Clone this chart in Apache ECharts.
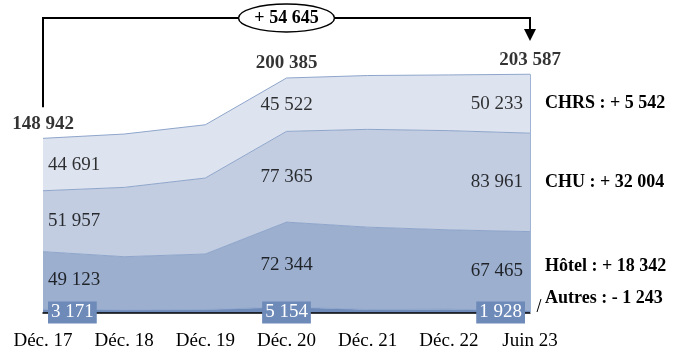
<!DOCTYPE html>
<html><head><meta charset="utf-8">
<script src="https://cdn.jsdelivr.net/npm/echarts@6/dist/echarts.min.js"></script>
<style>html,body{margin:0;padding:0;background:#fff}#c{width:690px;height:363px}</style>
</head><body><div id="c"></div>
<script>
const categories = ['Déc. 17','Déc. 18','Déc. 19','Déc. 20','Déc. 21','Déc. 22','Juin 23'];
const autres = [3171, 2700, 2900, 5154, 3000, 3300, 1928];
const hotel  = [49123, 45300, 47400, 72344, 70200, 67600, 67465];
const chu    = [51957, 59100, 64800, 77365, 83400, 84600, 83961];
const chrs   = [44691, 45500, 45400, 45522, 45900, 47500, 50233];
const seriesNames = ['Autres', 'Hôtel', 'CHU', 'CHRS'];
const labelIdx = [0, 3, 6];

const layers = [autres, hotel, chu, chrs];
const colors = ['#6d8ab9', '#9cafce', '#c2cde1', '#dee4ef'];
const FONT = 'Liberation Serif';
const fmt = n => Math.round(Math.abs(n)).toString().replace(/\B(?=(\d{3})+(?!\d))/g, ' ');
const signed = d => (d >= 0 ? '+ ' : '- ') + fmt(d);
const totals = categories.map((_, i) => layers.reduce((s, l) => s + l[i], 0));
const last = categories.length - 1;

const chart = echarts.init(document.getElementById('c'), null, {renderer: 'canvas'});

const series = layers.map((arr, k) => ({
  name: seriesNames[k], type: 'line', stack: 'tot', data: arr, symbol: 'none',
  lineStyle: {color: '#8ea5cb', width: 1},
  areaStyle: {color: colors[k], opacity: 1},
  z: 1
}));
series[3].markLine = {
  silent: true, symbol: 'none', label: {show: false},
  lineStyle: {color: '#9fb3d4', width: 1, type: 'solid'},
  data: [[{coord: [last, 0]}, {coord: [last, totals[last]]}]]
};

function posFor(i) {
  if (i === 0) return {position: 'right', distance: 5};
  if (i === last) return {position: 'left', distance: 7};
  return {position: 'inside'};
}

const bandData = [];
for (let k = 1; k < layers.length; k++) {
  labelIdx.forEach(i => {
    let below = 0;
    for (let j = 0; j < k; j++) below += layers[j][i];
    bandData.push({value: [i, below + layers[k][i] / 2], text: fmt(layers[k][i]),
      label: Object.assign({show: true}, posFor(i))});
  });
}
series.push({
  type: 'scatter', symbolSize: 0, data: bandData, z: 5, silent: true,
  label: {show: true, formatter: p => p.data.text, fontFamily: FONT, fontSize: 19, color: '#000'}
});
series.push({
  type: 'scatter', symbolSize: 0, z: 6, silent: true,
  data: labelIdx.map(i => ({value: [i, totals[i]], text: fmt(totals[i])})),
  label: {show: true, position: 'top', distance: 5, formatter: p => p.data.text, fontFamily: FONT,
    fontSize: 19, fontWeight: 'bold', color: '#000'}
});

chart.setOption({
  animation: false,
  grid: {left: 43, right: 160, top: 55, bottom: 50},
  xAxis: {type: 'category', data: categories, boundaryGap: false,
    axisLine: {lineStyle: {color: '#000', width: 1.5}}, axisTick: {show: false},
    axisLabel: {fontFamily: FONT, fontSize: 19, color: '#000', margin: 19}, z: 3},
  yAxis: {type: 'value', min: 0, max: 220000, show: false, splitLine: {show: false}},
  series: series
});

const px = (i, v) => chart.convertToPixel({xAxisIndex: 0, yAxisIndex: 0}, [i, v]);
const x0 = px(0, 0)[0], xL = px(last, 0)[0], yBase = px(0, 0)[1];
const yTop = 18;
const graphic = [];
graphic.push({type: 'polyline', shape: {points: [[x0, px(0, totals[0])[1] - 31], [x0, yTop], [xL, yTop], [xL, 31]]},
  style: {stroke: '#000', lineWidth: 2, fill: null}, z: 20});
graphic.push({type: 'polygon', shape: {points: [[xL - 6, 29], [xL + 6, 29], [xL, 41]]}, style: {fill: '#000'}, z: 20});
const cx = (x0 + xL) / 2;
graphic.push({type: 'ellipse', shape: {cx: cx, cy: yTop, rx: 48, ry: 14}, style: {fill: '#fff', stroke: '#000', lineWidth: 1.5}, z: 21});
graphic.push({type: 'text', x: cx, y: yTop, style: {text: signed(totals[last] - totals[0]), font: 'bold 18px "' + FONT + '"',
  fill: '#000', align: 'center', verticalAlign: 'middle'}, z: 22});
// Autres value boxes
labelIdx.forEach(i => {
  const p = px(i, 0);
  let x = p[0], align = 'center';
  if (i === 0) { x += 5; align = 'left'; }
  if (i === last) { x -= 5; align = 'right'; }
  graphic.push({type: 'text', x: x, y: yBase - 0.5, z: 30, style: {
    text: fmt(autres[i]), font: '19px "' + FONT + '"', fill: '#fff', align: align, verticalAlign: 'middle',
    backgroundColor: '#6d8ab9', padding: [2, 3, 1, 3]}});
});
const rightY = [];
for (let k = 0; k < layers.length; k++) {
  let below = 0;
  for (let j = 0; j < k; j++) below += layers[j][last];
  rightY.push(px(last, below + layers[k][last] / 2)[1]);
}
rightY[1] -= 5;
rightY[0] = yBase - 15;
layers.forEach((arr, k) => {
  graphic.push({type: 'text', x: xL + 15, y: rightY[k], style: {
    text: seriesNames[k] + ' : ' + signed(arr[last] - arr[0]), font: 'bold 18px "' + FONT + '"',
    fill: '#000', align: 'left', verticalAlign: 'middle'}, z: 22});
});
graphic.push({type: 'line', shape: {x1: xL + 7, y1: yBase - 1, x2: xL + 11, y2: yBase - 14}, style: {stroke: '#000', lineWidth: 1}, z: 22});
chart.setOption({graphic: graphic});
</script></body></html>
